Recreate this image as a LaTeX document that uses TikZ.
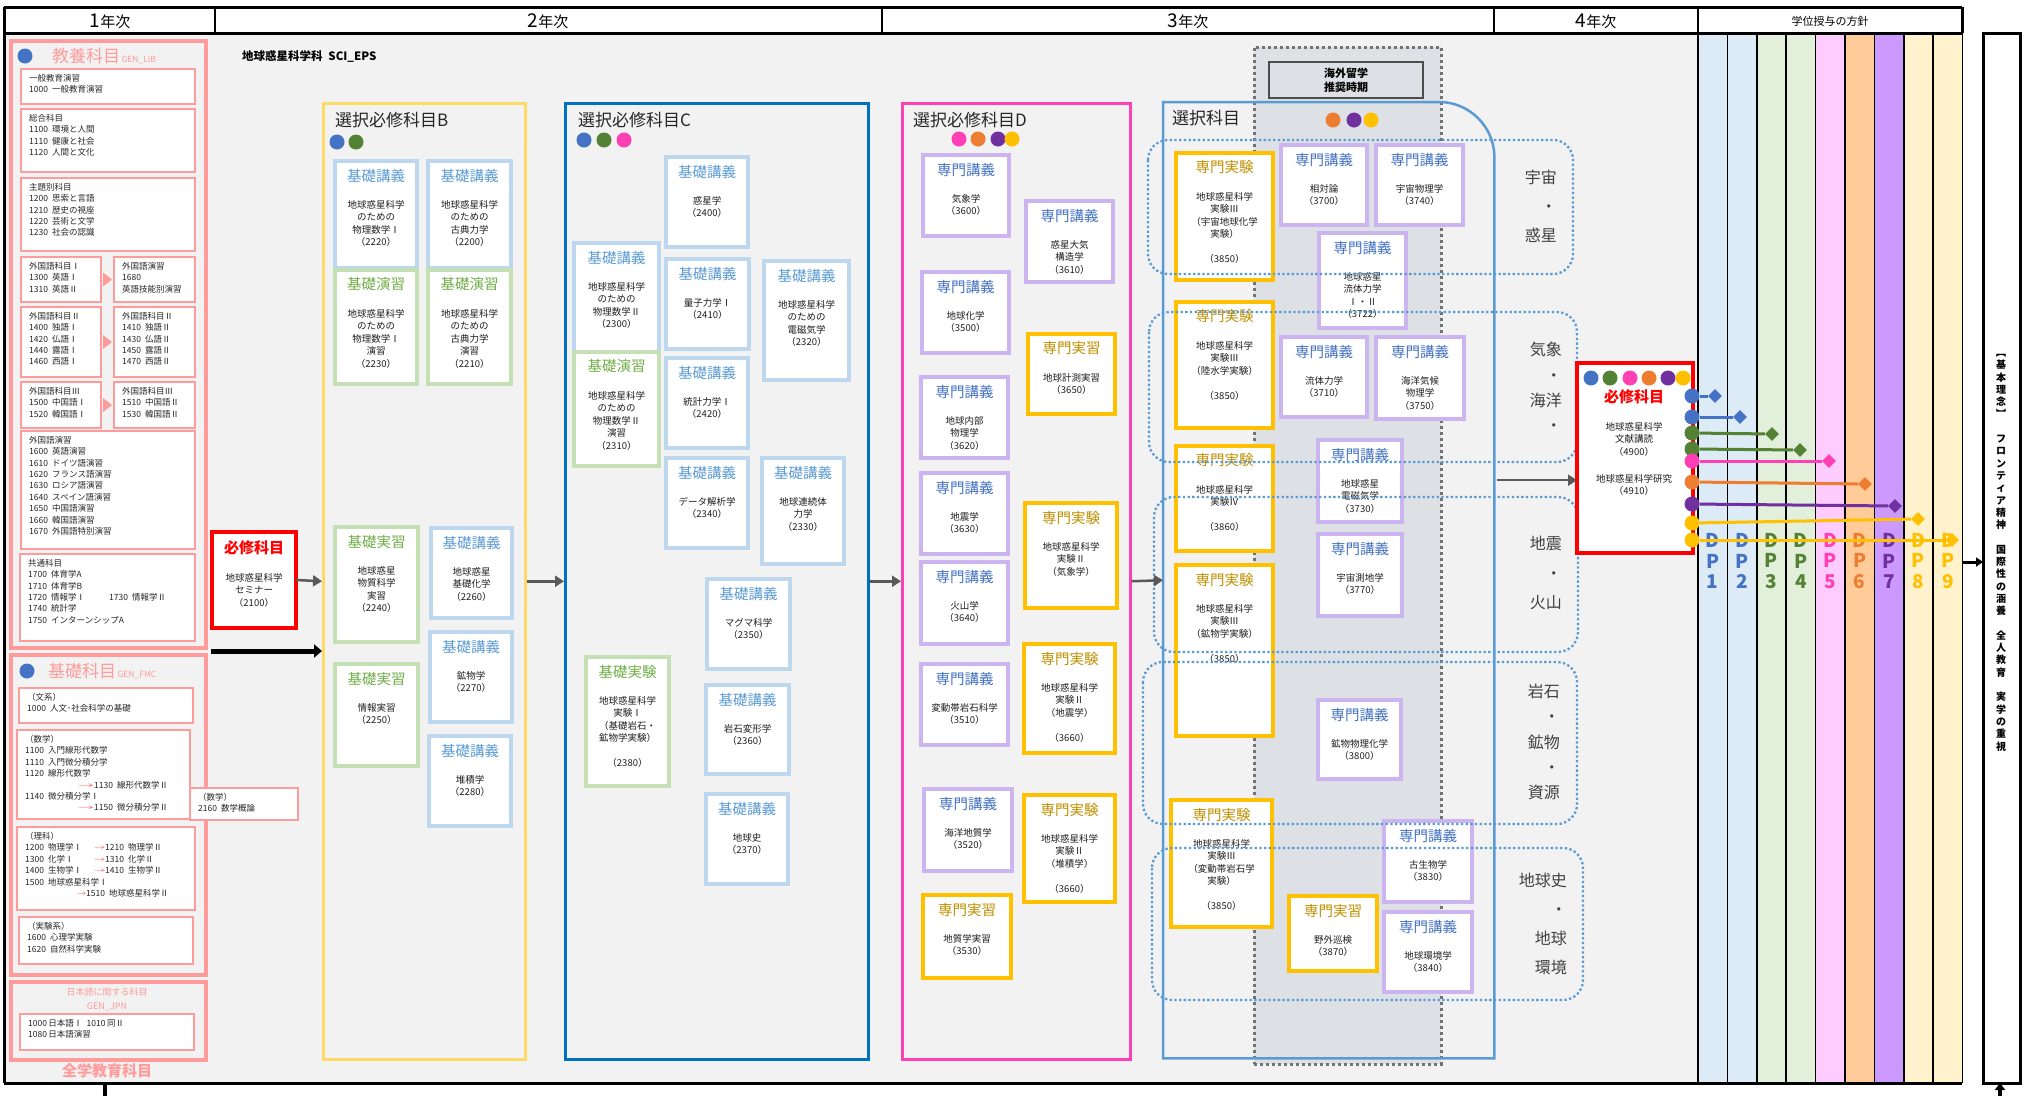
\documentclass[tikz,border=0pt]{standalone}
\usepackage{fontspec}
\usepackage{graphicx}
\setmainfont{Noto Sans CJK JP}
\usetikzlibrary{arrows.meta,calc,shapes.geometric,positioning}

\definecolor{bgc}{HTML}{F2F2F2}
\definecolor{kyoyo}{HTML}{FF9B9B}
\definecolor{hisshu}{HTML}{FF0000}
\definecolor{Bline}{HTML}{FFD966}
\definecolor{Cline}{HTML}{0070C0}
\definecolor{Dline}{HTML}{FF40B4}
\definecolor{Sline}{HTML}{5B9BD5}
\definecolor{lecL}{HTML}{BDD7EE}
\definecolor{lecT}{HTML}{5B9BD5}
\definecolor{exL}{HTML}{C5E0B4}
\definecolor{exT}{HTML}{70AD47}
\definecolor{splL}{HTML}{CCB4F0}
\definecolor{splT}{HTML}{4472C4}
\definecolor{spxL}{HTML}{FFC000}
\definecolor{spxT}{HTML}{BF9000}
\definecolor{bandc}{HTML}{DDE0E5}
\definecolor{cBlue}{HTML}{4472C4}
\definecolor{cGreen}{HTML}{548235}
\definecolor{cPink}{HTML}{FF40B4}
\definecolor{cOrange}{HTML}{ED7D31}
\definecolor{cPurple}{HTML}{7030A0}
\definecolor{cYellow}{HTML}{FFC000}
\definecolor{dpc1}{HTML}{DDEBF7}
\definecolor{dpc3}{HTML}{E2EFDA}
\definecolor{dpc5}{HTML}{FFCCFF}
\definecolor{dpc6}{HTML}{FFCC99}
\definecolor{dpc7}{HTML}{CC99FF}
\definecolor{dpc8}{HTML}{FFF2CC}

\tikzset{
  box/.style={draw, fill=white, anchor=north west, inner sep=0pt, outer sep=0pt},
  lec/.style={box, draw=lecL, line width=3.3pt},
  ex/.style={box, draw=exL, line width=3.3pt},
  spl/.style={box, draw=splL, line width=3.3pt},
  spx/.style={box, draw=spxL, line width=4pt},
  ktitle/.style={inner sep=0pt, font=\fontsize{14.5}{15}\selectfont},
  kbody/.style={inner sep=0pt, align=center, text=black!88, font=\fontsize{9.5}{12.5}\selectfont},
  kyoin/.style={box, draw=kyoyo, line width=2.5pt},
  kyoout/.style={draw=kyoyo, line width=4pt, anchor=north west, inner sep=0pt},
  ktext/.style={anchor=north west, inner sep=0pt, align=left, text=black!85, font=\fontsize{8.5}{11.4}\selectfont},
  grp/.style={draw, anchor=north west, inner sep=0pt, line width=2.5pt},
  grptitle/.style={anchor=west, inner sep=0pt, text=black!85, font=\fontsize{17}{17}\selectfont},
  gdot/.style={circle, inner sep=0pt, minimum size=15pt},
  dpdia/.style={diamond, aspect=1, inner sep=0pt, minimum size=14pt},
  flow/.style={draw=black!65, line width=2.5pt, -{Triangle[length=9pt,width=11pt]}},
  loopline/.style={draw=Sline, line width=2.3pt, dash pattern=on 2.3pt off 2.4pt, rounded corners=20pt},
  fieldlbl/.style={anchor=east, align=right, inner sep=0pt, text=black!75},
  redbox/.style={box, draw=hisshu, line width=4pt},
  redtitle/.style={inner sep=0pt, text=hisshu, font=\bfseries\fontsize{15}{15}\selectfont},
  hdr/.style={inner sep=0pt, font=\fontsize{15}{15}\selectfont}
}

\newcommand\cd[1]{\makebox[23pt][l]{#1}}
\newcommand\karr[1]{\textcolor{kyoyo!70!red}{\resizebox{#1}{4.5pt}{→}}}
\newcommand\kamoku[8]{%
  \node[#1, minimum width=#5pt, minimum height=#6pt] (#2) at (#3,#4) {};
  \node[ktitle, text=#1T] at ([yshift=-14.5pt]#2.north) {#7};
  \node[kbody, anchor=north] at ([yshift=-39pt]#2.north) {#8};
}
\newcommand\kyobox[6]{%
  \node[kyoin, minimum width=#4pt, minimum height=#5pt] (#1) at (#2,#3) {};
  \node[ktext] at ([xshift=8pt,yshift=-5pt]#1.north west) {#6};
}

\begin{document}
\begin{tikzpicture}[x=1pt,y=-1pt]
\useasboundingbox (0,0) rectangle (2026,1096);

\fill[bgc] (4,33) rectangle (1698,1083);
\foreach \c [count=\i] in {dpc1,dpc1,dpc3,dpc3,dpc5,dpc6,dpc7,dpc8,dpc8}
  \fill[\c] ({1698+(\i-1)*29.4},33) rectangle +(29.4,1050);
\foreach \i in {0,...,9}
  \draw[line width=1.5pt] ({1698+\i*29.4},33) -- ({1698+\i*29.4},1083);

\draw[line width=3pt] (4,7) -- (1962,7);
\draw[line width=3pt] (4,33) -- (1962,33);
\draw[line width=3pt] (4,1083) -- (1962,1083);
\draw[line width=3pt] (4,7) -- (4,1083);
\draw[line width=3pt] (1962,7) -- (1962,33);
\foreach \x in {215,882,1494,1698}
  \draw[line width=1.5pt] (\x,7) -- (\x,33);

\node[hdr] (y1) at (110,21) {{\fontsize{19}{19}\selectfont 1}年次};
\node[hdr] (y2) at (548,21) {{\fontsize{19}{19}\selectfont 2}年次};
\node[hdr] (y3) at (1188,21) {{\fontsize{19}{19}\selectfont 3}年次};
\node[hdr] (y4) at (1596,21) {{\fontsize{19}{19}\selectfont 4}年次};
\node[inner sep=0pt, font=\fontsize{11}{11}\selectfont] (dpH) at (1830,21) {学位授与の方針};

\node[anchor=west, inner sep=0pt, font=\bfseries\fontsize{11.5}{12}\selectfont] (dept) at (242,56) {地球惑星科学科\enspace SCI\_EPS};

% 全学教育科目
\node[kyoout, minimum width=195pt, minimum height=607pt] (kyoyo) at (9,39) {};
\node[gdot, fill=cBlue] (kyoD) at (25,56) {};
\node[anchor=west, inner sep=0pt, text=kyoyo, font=\fontsize{17}{17}\selectfont] (kyoT) at (52,56) {教養科目{\fontsize{8.5}{9}\selectfont\,GEN\_LIB}};
\kyobox{ippan}{21}{69}{174}{35}{一般教育演習\\\cd{1000}一般教育演習}
\kyobox{sogo}{21}{109}{174}{63}{総合科目\\\cd{1100}環境と人間\\\cd{1110}健康と社会\\\cd{1120}人間と文化}
\kyobox{shudai}{21}{178}{174}{73}{主題別科目\\\cd{1200}思索と言語\\\cd{1210}歴史の視座\\\cd{1220}芸術と文学\\\cd{1230}社会の認識}
\kyobox{gai1}{21}{257}{80}{45}{外国語科目Ⅰ\\\cd{1300}英語Ⅰ\\\cd{1310}英語Ⅱ}
\kyobox{gai1r}{114}{257}{81}{45}{外国語演習\\1680\\英語技能別演習}
\kyobox{gai2}{21}{307}{80}{70}{外国語科目Ⅱ\\\cd{1400}独語Ⅰ\\\cd{1420}仏語Ⅰ\\\cd{1440}露語Ⅰ\\\cd{1460}西語Ⅰ}
\kyobox{gai2r}{114}{307}{81}{70}{外国語科目Ⅱ\\\cd{1410}独語Ⅱ\\\cd{1430}仏語Ⅱ\\\cd{1450}露語Ⅱ\\\cd{1470}西語Ⅱ}
\kyobox{gai3}{21}{382}{80}{46}{外国語科目Ⅲ\\\cd{1500}中国語Ⅰ\\\cd{1520}韓国語Ⅰ}
\kyobox{gai3r}{114}{382}{81}{46}{外国語科目Ⅲ\\\cd{1510}中国語Ⅱ\\\cd{1530}韓国語Ⅱ}
\kyobox{gaien}{21}{431}{174}{118}{外国語演習\\\cd{1600}英語演習\\\cd{1610}ドイツ語演習\\\cd{1620}フランス語演習\\\cd{1630}ロシア語演習\\\cd{1640}スペイン語演習\\\cd{1650}中国語演習\\\cd{1660}韓国語演習\\\cd{1670}外国語特別演習}
\kyobox{kyotsu}{20}{554}{175}{87}{共通科目\\\cd{1700}体育学A\\\cd{1710}体育学B\\\cd{1720}\makebox[58pt][l]{情報学Ⅰ}\cd{1730}情報学Ⅱ\\\cd{1740}統計学\\\cd{1750}インターンシップA}
\foreach \a/\b in {gai1/gai1r,gai2/gai2r,gai3/gai3r}
  \fill[kyoyo] ([xshift=2pt,yshift=7pt]\a.east) -- ([xshift=11pt]\a.east) -- ([xshift=2pt,yshift=-7pt]\a.east) -- cycle;

\node[kyoout, minimum width=195pt, minimum height=320pt] (kiso) at (9,653) {};
\node[gdot, fill=cBlue] (kisoD) at (27,671) {};
\node[anchor=west, inner sep=0pt, text=kyoyo, font=\fontsize{17}{17}\selectfont] (kisoT) at (48,671) {基礎科目{\fontsize{8.5}{9}\selectfont\,GEN\_FMC}};
\kyobox{bunkei}{19}{688}{174}{35}{（文系）\\\cd{1000}人文･社会科学の基礎}
\kyobox{sugaku}{17}{730}{173}{89}{（数学）\\\cd{1100}入門線形代数学\\\cd{1110}入門微分積分学\\\cd{1120}線形代数学\\\hspace*{53pt}\karr{16pt}\cd{1130}線形代数学Ⅱ\\\cd{1140}微分積分学Ⅰ\\\hspace*{53pt}\karr{16pt}\cd{1150}微分積分学Ⅱ}
\kyobox{sugaku2}{190}{788}{108}{32}{（数学）\\\cd{2160}数学概論}
\kyobox{rika}{17}{827}{178}{83}{（理科）\\\cd{1200}\makebox[46pt][l]{物理学Ⅰ}\karr{11pt}\cd{1210}物理学Ⅱ\\\cd{1300}\makebox[46pt][l]{化学Ⅰ}\karr{11pt}\cd{1310}化学Ⅱ\\\cd{1400}\makebox[46pt][l]{生物学Ⅰ}\karr{11pt}\cd{1410}生物学Ⅱ\\\cd{1500}地球惑星科学Ⅰ\\\hspace*{52pt}\karr{9pt}\cd{1510}地球惑星科学Ⅱ}
\kyobox{jikken}{19}{917}{174}{47}{（実験系）\\\cd{1600}心理学実験\\\cd{1620}自然科学実験}

\node[kyoout, minimum width=195pt, minimum height=78pt] (jpn) at (9,980) {};
\node[inner sep=0pt, align=center, text=kyoyo, font=\fontsize{9}{14}\selectfont] (jpnT) at (107,999) {日本語に関する科目\\GEN\_JPN};
\kyobox{nihongo}{20}{1014}{174}{36}{1000\,日本語Ⅰ\enspace 1010\,同Ⅱ\\1080\,日本語演習}
\node[inner sep=0pt, text=kyoyo, font=\bfseries\fontsize{15}{15}\selectfont] (zengaku) at (107,1071) {全学教育科目};

% 1年 必修
\node[redbox, minimum width=84pt, minimum height=96pt] (req2) at (212,532) {};
\node[redtitle] at (254,548) {必修科目};
\node[kbody, anchor=north] at (254,573) {地球惑星科学\\セミナー\\（2100）};

% 選択必修科目B
\node[grp, draw=Bline, minimum width=202pt, minimum height=956pt] (grpB) at (322,102) {};
\node[grptitle] at (335,120) {選択必修科目B};
\node[gdot, fill=cBlue] at (337,142) {};
\node[gdot, fill=cGreen] at (356,142) {};
\kamoku{lec}{k2220}{335}{161}{82}{107}{基礎講義}{地球惑星科学\\のための\\物理数学Ⅰ\\（2220）}
\kamoku{lec}{k2200}{428}{161}{83}{107}{基礎講義}{地球惑星科学\\のための\\古典力学\\（2200）}
\kamoku{ex}{k2230}{335}{270}{82}{114}{基礎演習}{地球惑星科学\\のための\\物理数学Ⅰ\\演習\\（2230）}
\kamoku{ex}{k2210}{428}{270}{83}{114}{基礎演習}{地球惑星科学\\のための\\古典力学\\演習\\（2210）}
\kamoku{ex}{k2240}{335}{527}{83}{115}{基礎実習}{地球惑星\\物質科学\\実習\\（2240）}
\kamoku{lec}{k2260}{431}{528}{81}{90}{基礎講義}{地球惑星\\基礎化学\\（2260）}
\kamoku{lec}{k2270}{430}{632}{82}{90}{基礎講義}{鉱物学\\（2270）}
\kamoku{ex}{k2250}{335}{664}{83}{102}{基礎実習}{情報実習\\（2250）}
\kamoku{lec}{k2280}{429}{736}{82}{90}{基礎講義}{堆積学\\（2280）}

% 選択必修科目C
\node[grp, draw=Cline, minimum width=303pt, minimum height=956pt] (grpC) at (564,102) {};
\node[grptitle] at (578,120) {選択必修科目C};
\node[gdot, fill=cBlue] at (584,140) {};
\node[gdot, fill=cGreen] at (604,140) {};
\node[gdot, fill=cPink] at (624,140) {};
\kamoku{lec}{k2400}{666}{157}{82}{90}{基礎講義}{惑星学\\（2400）}
\kamoku{lec}{k2300}{574}{243}{85}{109}{基礎講義}{地球惑星科学\\のための\\物理数学Ⅱ\\（2300）}
\kamoku{lec}{k2410}{666}{259}{83}{90}{基礎講義}{量子力学Ⅰ\\（2410）}
\kamoku{lec}{k2320}{764}{261}{85}{119}{基礎講義}{地球惑星科学\\のための\\電磁気学\\（2320）}
\kamoku{ex}{k2310}{574}{352}{85}{114}{基礎演習}{地球惑星科学\\のための\\物理数学Ⅱ\\演習\\（2310）}
\kamoku{lec}{k2420}{666}{358}{82}{90}{基礎講義}{統計力学Ⅰ\\（2420）}
\kamoku{lec}{k2340}{666}{458}{82}{90}{基礎講義}{データ解析学\\（2340）}
\kamoku{lec}{k2330}{762}{458}{82}{106}{基礎講義}{地球連続体\\力学\\（2330）}
\kamoku{lec}{k2350}{707}{579}{83}{90}{基礎講義}{マグマ科学\\（2350）}
\kamoku{ex}{k2380}{586}{657}{83}{129}{基礎実験}{地球惑星科学\\実験Ⅰ\\（基礎岩石・\\鉱物学実験）\\[12.5pt]（2380）}
\kamoku{lec}{k2360}{706}{685}{83}{89}{基礎講義}{岩石変形学\\（2360）}
\kamoku{lec}{k2370}{706}{794}{82}{90}{基礎講義}{地球史\\（2370）}

% 選択必修科目D
\node[grp, draw=Dline, minimum width=228pt, minimum height=956pt] (grpD) at (901,102) {};
\node[grptitle] at (913,120) {選択必修科目D};
\node[gdot, fill=cPink] at (959,139) {};
\node[gdot, fill=cOrange] at (978,139) {};
\node[gdot, fill=cPurple] at (998,139) {};
\node[gdot, fill=cYellow] at (1012,139) {};
\kamoku{spl}{k3600}{923}{155}{86}{81}{専門講義}{気象学\\（3600）}
\kamoku{spl}{k3610}{1026}{201}{87}{81}{専門講義}{惑星大気\\構造学\\（3610）}
\kamoku{spl}{k3500}{922}{272}{87}{81}{専門講義}{地球化学\\（3500）}
\kamoku{spx}{k3650}{1028}{334}{87}{80}{専門実習}{地球計測実習\\（3650）}
\kamoku{spl}{k3620}{921}{377}{87}{81}{専門講義}{地球内部\\物理学\\（3620）}
\kamoku{spl}{k3630}{921}{473}{87}{81}{専門講義}{地震学\\（3630）}
\kamoku{spx}{k3660a}{1025}{503}{92}{105}{専門実験}{地球惑星科学\\実験Ⅱ\\（気象学）}
\kamoku{spl}{k3640}{921}{562}{87}{82}{専門講義}{火山学\\（3640）}
\kamoku{spx}{k3660b}{1024}{644}{91}{109}{専門実験}{地球惑星科学\\実験Ⅱ\\（地震学）\\[12.5pt]（3660）}
\kamoku{spl}{k3510}{921}{664}{87}{81}{専門講義}{変動帯岩石科学\\（3510）}
\kamoku{spx}{k3660c}{1024}{795}{91}{107}{専門実験}{地球惑星科学\\実験Ⅱ\\（堆積学）\\[12.5pt]（3660）}
\kamoku{spl}{k3520}{924}{789}{88}{82}{専門講義}{海洋地質学\\（3520）}
\kamoku{spx}{k3530}{923}{895}{88}{83}{専門実習}{地質学実習\\（3530）}

% 選択科目
\node[box, fill=bandc, draw=black!55, line width=3pt, dash pattern=on 3pt off 3pt, minimum width=187pt, minimum height=1017pt] (kaigai) at (1254,47) {};
\node[box, fill=bandc, draw=black!70, line width=2.5pt, minimum width=154pt, minimum height=36pt] (kaigaiL) at (1269,62) {};
\node[inner sep=0pt, align=center, font=\bfseries\fontsize{11}{14}\selectfont] at (kaigaiL.center) {海外留学\\推奨時期};
\node[anchor=north west, inner sep=0pt, minimum width=331pt, minimum height=956pt] (grpS) at (1163,102) {};
\draw[Sline, line width=2.5pt] (grpS.south west) -- (grpS.north west) -- ([xshift=-55pt]grpS.north east) .. controls ([xshift=-25pt]grpS.north east) and ([yshift=-25pt]grpS.north east) .. ([yshift=-55pt]grpS.north east) -- (grpS.south east) -- cycle;
\node[grptitle] at (1172,118) {選択科目};
\node[gdot, fill=cOrange] at (1333,120) {};
\node[gdot, fill=cPurple] at (1354,120) {};
\node[gdot, fill=cYellow] at (1371,120) {};
\kamoku{spx}{k3850a}{1176}{153}{97}{127}{専門実験}{地球惑星科学\\実験Ⅲ\\（宇宙地球化学\\実験）\\[12.5pt]（3850）}
\kamoku{spl}{k3700}{1281}{145}{86}{80}{専門講義}{相対論\\（3700）}
\kamoku{spl}{k3740}{1376}{145}{87}{80}{専門講義}{宇宙物理学\\（3740）}
\kamoku{spl}{k3722}{1319}{233}{87}{95}{専門講義}{地球惑星\\流体力学\\Ⅰ・Ⅱ\\（3722）}
\kamoku{spx}{k3850b}{1176}{302}{97}{126}{専門実験}{地球惑星科学\\実験Ⅲ\\（陸水学実験）\\[12.5pt]（3850）}
\kamoku{spl}{k3710}{1281}{337}{86}{80}{専門講義}{流体力学\\（3710）}
\kamoku{spl}{k3750}{1376}{337}{88}{82}{専門講義}{海洋気候\\物理学\\（3750）}
\kamoku{spx}{k3860}{1176}{446}{97}{105}{専門実験}{地球惑星科学\\実験Ⅳ\\[12.5pt]（3860）}
\kamoku{spl}{k3730}{1318}{440}{84}{82}{専門講義}{地球惑星\\電磁気学\\（3730）}
\kamoku{spx}{k3850c}{1176}{565}{97}{171}{専門実験}{地球惑星科学\\実験Ⅲ\\（鉱物学実験）\\[12.5pt]（3850）}
\kamoku{spl}{k3770}{1318}{534}{84}{82}{専門講義}{宇宙測地学\\（3770）}
\kamoku{spl}{k3800}{1318}{700}{83}{79}{専門講義}{鉱物物理化学\\（3800）}
\kamoku{spx}{k3850d}{1171}{800}{101}{127}{専門実験}{地球惑星科学\\実験Ⅲ\\（変動帯岩石学\\実験）\\[12.5pt]（3850）}
\kamoku{spl}{k3830}{1384}{821}{88}{81}{専門講義}{古生物学\\（3830）}
\kamoku{spx}{k3870}{1289}{896}{88}{75}{専門実習}{野外巡検\\（3870）}
\kamoku{spl}{k3840}{1384}{912}{88}{80}{専門講義}{地球環境学\\（3840）}

\draw[loopline] (1148,140) rectangle (1573,274);
\draw[loopline] (1149,312) rectangle (1577,462);
\draw[loopline] (1154,497) rectangle (1578,652);
\draw[loopline] (1143,662) rectangle (1577,824);
\draw[loopline] (1152,848) rectangle (1583,1000);
\node[fieldlbl, font=\fontsize{16}{29}\selectfont] (f1) at (1557,206) {宇宙\\・\\惑星};
\node[fieldlbl, font=\fontsize{16}{25.3}\selectfont] (f2) at (1562,387) {気象\\・\\海洋\\・};
\node[fieldlbl, font=\fontsize{16}{29.5}\selectfont] (f3) at (1562,573) {地震\\・\\火山};
\node[fieldlbl, font=\fontsize{16}{25.2}\selectfont] (f4) at (1560,742) {岩石\\・\\鉱物\\・\\資源};
\node[fieldlbl, font=\fontsize{16}{29}\selectfont] (f5) at (1567,924) {地球史\\・\\地球\\環境};

% 4年 必修
\node[redbox, minimum width=116pt, minimum height=190pt] (req4) at (1577,363) {};
\foreach \c/\x in {cBlue/1591,cGreen/1610,cPink/1630,cOrange/1649,cPurple/1668,cYellow/1683}
  \node[gdot, fill=\c] at (\x,378) {};
\node[redtitle] at (1634,397) {必修科目};
\node[kbody, anchor=north] at (1634,422) {地球惑星科学\\文献講読\\（4900）\\[14.5pt]地球惑星科学研究\\（4910）};

% 流れ
\draw[flow] (req2.east) -- (grpB.west);
\draw[flow] (grpB.east) -- (grpC.west);
\draw[flow] (grpC.east) -- (grpD.west);
\draw[flow] (grpD.east) -- (grpS.west);
\coordinate (s4) at ($(grpS.east)+(3,-100)$);
\draw[flow] (s4) -- (s4 -| req4.west);
\coordinate (zen) at (211,651);
\draw[black, line width=5pt, -{Triangle[length=8pt,width=13pt]}] (zen) -- (zen -| grpB.west);

% DP
\foreach \c [count=\i] in {cBlue,cBlue,cGreen,cGreen,cPink,cOrange,cPurple,cYellow,cYellow}
  \node[inner sep=0pt, align=center, text=\c, font=\bfseries\fontsize{19}{20.5}\selectfont] (dpl\i) at ({1683.3+\i*29.4},561) {D\\P\\\i};
\foreach \c/\ya/\xb/\yb [count=\i] in {cBlue/396/1715/396, cBlue/417/1740/417, cGreen/433/1772/434, cGreen/449/1800/450, cPink/461/1829/461, cOrange/482/1865/484, cPurple/504/1895/506, cYellow/523/1918/519, cYellow/540/1952/540}
{
  \node[gdot, fill=\c] (o\i) at (1692,\ya) {};
  \node[dpdia, fill=\c] (e\i) at (\xb,\yb) {};
  \draw[\c, line width=3pt] (o\i) -- (e\i);
}

% 基本理念
\node[box, draw=black, line width=3pt, minimum width=37pt, minimum height=1050pt] (kihon) at (1983,33) {};
\node[anchor=north, inner sep=0pt, align=center, font=\bfseries\fontsize{10}{12.3}\selectfont] at (2001,354) {︻\\基\\本\\理\\念\\︼\\[12.3pt]フ\\ロ\\ン\\テ\\ィ\\ア\\精\\神\\[12.3pt]国\\際\\性\\の\\涵\\養\\[12.3pt]全\\人\\教\\育\\[12.3pt]実\\学\\の\\重\\視};
\coordinate (dpR) at (1962,562);
\draw[black, line width=3pt, -{Triangle[length=7pt,width=9pt]}] (dpR) -- (dpR -| kihon.west);
\coordinate (kb) at (2000,1096);
\draw[black, line width=3.5pt, -{Triangle[length=7pt,width=10pt]}] (kb) -- (kb |- kihon.south);
\coordinate (zb) at (105,1096);
\draw[black, line width=3.5pt] (zb) -- ++(0,-11);
\end{tikzpicture}
\end{document}
